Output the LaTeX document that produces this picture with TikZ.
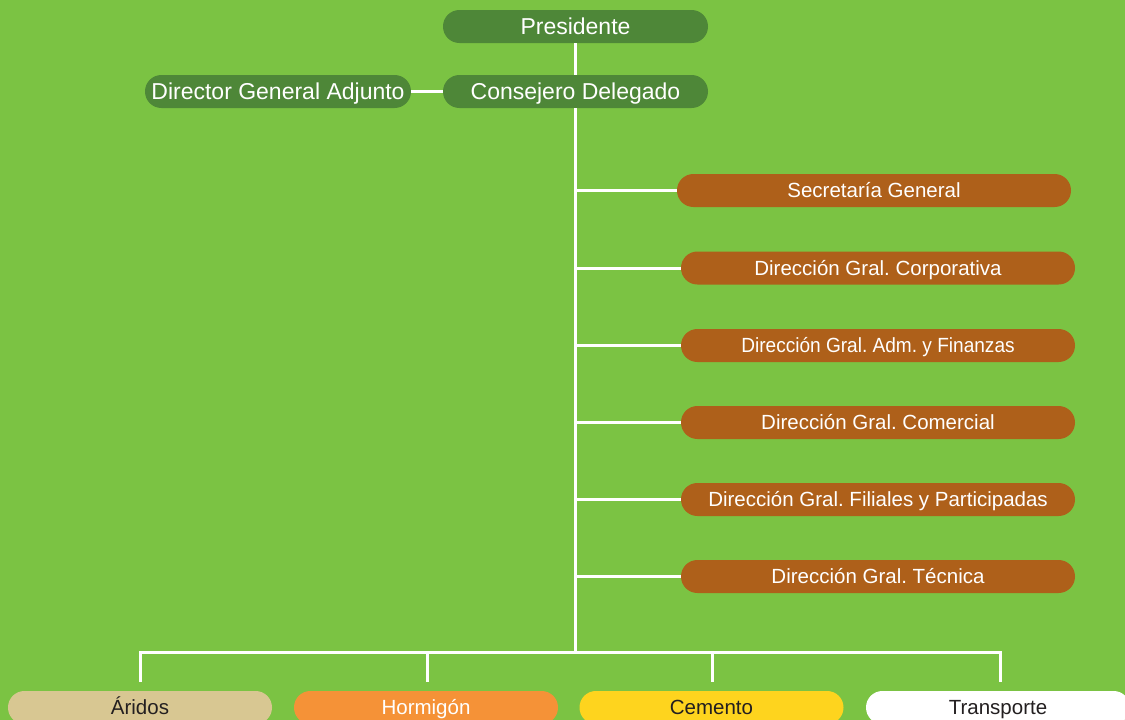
\documentclass[tikz,border=0pt]{standalone}
\usepackage{fontspec}
\setmainfont{Liberation Sans}
\frenchspacing
\definecolor{bggreen}{RGB}{123,195,67}
\definecolor{darkgreen}{RGB}{78,135,56}
\definecolor{brown}{RGB}{174,96,26}
\definecolor{tan}{RGB}{216,199,146}
\definecolor{orng}{RGB}{245,146,55}
\definecolor{yell}{RGB}{254,212,30}
\definecolor{txtdark}{RGB}{35,31,32}
\tikzset{
  pill/.style={rectangle, rounded corners=16.4pt, minimum height=33pt, inner sep=0pt, text=white, text depth=0pt},
  topbox/.style={pill, fill=darkgreen, minimum width=265pt, font=\fontsize{23}{27}\selectfont, text height=16.5pt},
  dirbox/.style={pill, fill=brown, minimum width=394pt, font=\fontsize{20.5}{24}\selectfont, text height=14.7pt},
  divbox/.style={pill, minimum width=264pt, font=\fontsize{20.5}{24}\selectfont, text height=14.7pt},
  link/.style={draw=white, line width=3pt}
}
\begin{document}
\begin{tikzpicture}[x=1pt,y=-1pt]
\clip (0,0) rectangle (1125,720);
\fill[bggreen] (0,0) rectangle (1125,720);
\useasboundingbox (0,0) rectangle (1125,720);

\node[topbox] (pres) at (575.5,26.5) {Presidente};
\node[topbox] (cons) at (575.5,91.5) {Consejero Delegado};
\node[topbox, minimum width=266pt] (adj) at (278,91.5) {Director General Adjunto};

\node[dirbox] (sec) at (874,190.5) {Secretaría General};
\node[dirbox] (corp) at (878,268) {Dirección Gral. Corporativa};
\node[dirbox] (adm) at (878,345.5) {\scalebox{0.93}[1]{Dirección Gral. Adm. y Finanzas}};
\node[dirbox] (com) at (878,422.5) {Dirección Gral. Comercial};
\node[dirbox] (fil) at (878,499.5) {Dirección Gral. Filiales y Participadas};
\node[dirbox] (tec) at (878,576.5) {Dirección Gral. Técnica};

\node[divbox, fill=tan, text=txtdark] (ari) at (140,707.5) {Áridos};
\node[divbox, fill=orng] (hor) at (426,707.5) {Hormigón};
\node[divbox, fill=yell, text=txtdark] (cem) at (711.5,707.5) {Cemento};
\node[divbox, fill=white, text=txtdark] (tra) at (998,707.5) {Transporte};

\coordinate (hub) at (575,652);
\coordinate (ariT) at (140,682);
\coordinate (horT) at (427,682);
\coordinate (cemT) at (712,682);
\coordinate (traT) at (1000,682);

\draw[link] (pres.south -| hub) -- (cons.north -| hub);
\draw[link] (adj.east) -- (cons.west);
\draw[link] (cons.south -| hub) -- (hub);
\foreach \n in {sec,corp,adm,com,fil,tec}{
  \draw[link] (hub |- \n.west) -- (\n.west);
}
\draw[link] (ariT) |- (hub) -| (traT);
\draw[link] (hub -| horT) -- (horT);
\draw[link] (hub -| cemT) -- (cemT);
\end{tikzpicture}
\end{document}
